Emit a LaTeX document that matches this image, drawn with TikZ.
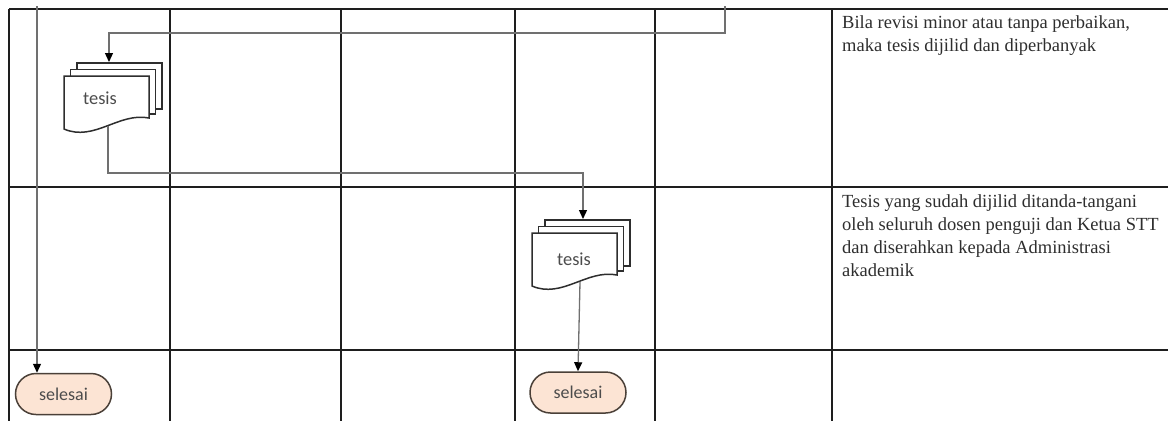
\documentclass[tikz,border=0pt]{standalone}
\usepackage{fontspec}
\setmainfont{Liberation Serif}
\newfontfamily\labelfont{Carlito}
\usetikzlibrary{arrows.meta,shapes.misc,calc}

\definecolor{gridline}{HTML}{1E1E1E}
\definecolor{flowline}{HTML}{707070}
\definecolor{sheetline}{HTML}{2E2E2E}
\definecolor{endfill}{HTML}{FCE4D4}
\definecolor{endline}{HTML}{4A4038}
\definecolor{notetext}{HTML}{2E2E2E}

\tikzset{
  grid/.style={draw=gridline, line width=1.4pt},
  flow/.style={draw=flowline, line width=1.3pt,
    -{Triangle[length=9pt,width=8pt,color=black]}},
  sheet/.style={draw=sheetline, fill=white, line width=1.5pt, line join=miter},
  doclabel/.style={font=\labelfont\fontsize{18.4}{20}\selectfont, text=black!70, inner sep=0pt},
  endstate/.style={rounded rectangle, draw=endline, fill=endfill, line width=1.5pt,
    minimum width=96pt, minimum height=41pt, inner sep=0pt,
    font=\labelfont\fontsize{18}{20}\selectfont, text=black!70},
  note/.style={anchor=north west, align=left, inner sep=0pt, text=notetext,
    font=\fontsize{18.5}{23}\selectfont},
}

% stack of three sheets; (#2,#3) is the top left corner of the front sheet
\newcommand\multidoc[3]{%
  \begin{scope}[shift={(#2,#3)}]
    \draw[sheet] (13,-13) rectangle (98,33);
    \draw[sheet] (6.5,-6.5) rectangle (91.5,38);
    \draw[sheet] (0,53) -- (0,0) -- (85,0) -- (85,42)
      .. controls (55,36) and (30,66) .. (0,53) -- cycle;
    \coordinate (#1-back) at (13,-13);
    \coordinate (#1-foot) at (0,54);
  \end{scope}}

\begin{document}
\begin{tikzpicture}[x=1pt,y=-1pt]
  \useasboundingbox (0,0) rectangle (1168,421);

  % swimlane grid
  \foreach \yy in {9,187,350} \draw[grid] (9,\yy) -- (1168,\yy);
  \foreach \xx in {9,170,341,515,655,832} \draw[grid] (\xx,9) -- (\xx,421);

  % document stacks
  \multidoc{stackA}{64}{76}
  \node[doclabel] (docA) at (100,98) {tesis};
  \multidoc{stackB}{532}{233}
  \node[doclabel] (docB) at (574,259) {tesis};

  % terminators
  \node[endstate] (endA) at (63.5,394) {selesai};
  \node[endstate] (endB) at (578,392.5) {selesai};

  % free ends of the incoming lines
  \coordinate (inA) at (725,6);
  \coordinate (inB) at (37,6);

  % connectors
  \draw[flow] (inA) -- (725,33) -- (109,33) -- ($(stackA-back)+(32,-1)$);
  \draw[flow] ($(stackA-foot)+(44,-4)$) -- (108,173) -- (583,173) -- ($(stackB-back)+(38,-1)$);
  \draw[flow] ($(stackB-foot)+(48,-5)$) -- (endB.north);
  \draw[flow] (inB) -- (inB |- endA.north);

  % notes
  \node[note] (noteA) at (842,15.4) {Bila revisi minor atau tanpa perbaikan,\\maka tesis dijilid dan diperbanyak};
  \node[note] (noteB) at (842,194.4) {Tesis yang sudah dijilid ditanda-tangani\\oleh seluruh dosen penguji dan Ketua STT\\dan diserahkan kepada Administrasi\\akademik};
\end{tikzpicture}
\end{document}
